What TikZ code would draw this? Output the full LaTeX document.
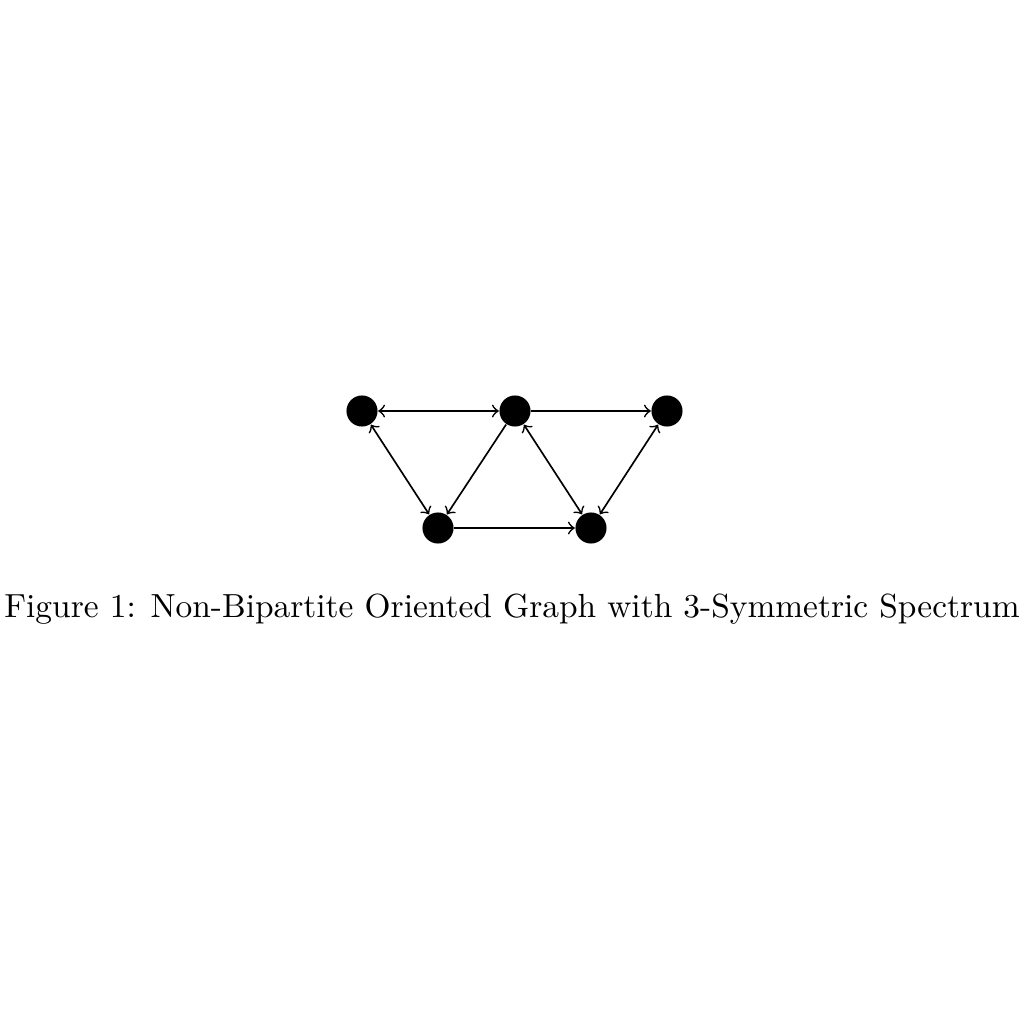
\documentclass[tikz,border=0pt]{standalone}
\begin{document}
\begin{tikzpicture}[x=0.2993pt,y=-0.2993pt,
  vtx/.style={circle,fill=black,inner sep=0pt,minimum size=9.3pt},
  edge/.style={line width=0.5pt,->},
  bedge/.style={line width=0.5pt,<->}]
\useasboundingbox (0,0) rectangle (1024,1024);
\node[vtx] (a) at (362,411) {};
\node[vtx] (b) at (515,411) {};
\node[vtx] (c) at (667,411) {};
\node[vtx] (d) at (438,528) {};
\node[vtx] (e) at (591,528) {};
\draw[bedge] (a) -- (b);
\draw[edge] (b) -- (c);
\draw[bedge] (a) -- (d);
\draw[edge] (b) -- (d);
\draw[bedge] (b) -- (e);
\draw[bedge] (c) -- (e);
\draw[edge] (d) -- (e);
\node[anchor=base] (cap) at (512,617) {Figure 1: Non-Bipartite Oriented Graph with 3-Symmetric Spectrum};
\end{tikzpicture}
\end{document}
